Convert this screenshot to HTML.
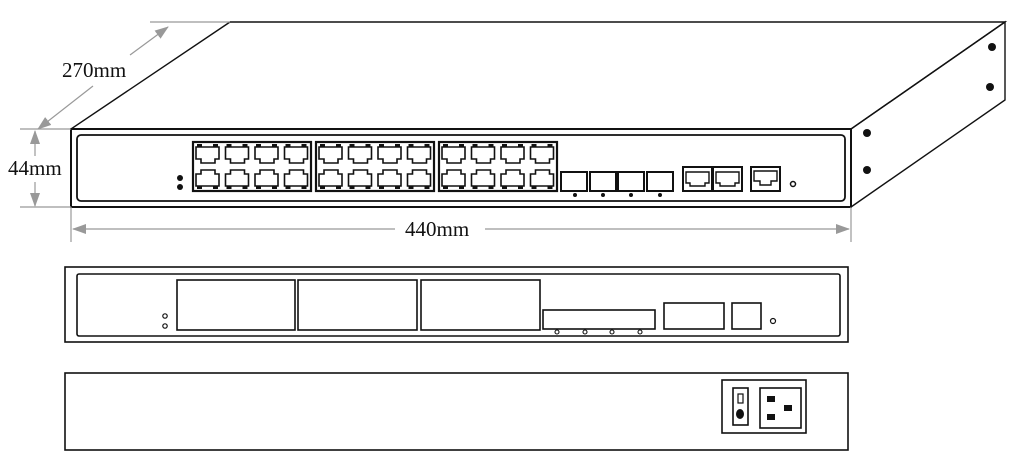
<!DOCTYPE html>
<html><head><meta charset="utf-8"><style>
html,body{margin:0;padding:0;background:#fff;}
svg{display:block;}
text{font-family:"Liberation Serif",serif;font-size:21px;fill:#111;}
</style></head><body>
<svg width="1023" height="471" viewBox="0 0 1023 471" xmlns="http://www.w3.org/2000/svg">
<defs>
<marker id="ar" markerWidth="14" markerHeight="10" refX="13" refY="5" orient="auto" markerUnits="userSpaceOnUse">
<path d="M0,0 L14,5 L0,10 Z" fill="#999"/></marker>
<g id="pt">
<path d="M3,4 H26 V16 H22 V20 H8 V16 H3 Z" fill="none" stroke="#111" stroke-width="1.6"/>
<rect x="4" y="1" width="5" height="3" fill="#111"/><rect x="20" y="1" width="5" height="3" fill="#111"/>
</g>
<g id="pb">
<path d="M3,20 H26 V8 H22 V4 H8 V8 H3 Z" fill="none" stroke="#111" stroke-width="1.6"/>
<rect x="4" y="20" width="5" height="3" fill="#111"/><rect x="20" y="20" width="5" height="3" fill="#111"/>
</g>
<g id="grp">
<rect x="0" y="0" width="118" height="49" fill="none" stroke="#111" stroke-width="2.2"/>
<use href="#pt" x="0" y="1"/><use href="#pt" x="29.5" y="1"/><use href="#pt" x="59" y="1"/><use href="#pt" x="88.5" y="1"/>
<use href="#pb" x="0" y="24"/><use href="#pb" x="29.5" y="24"/><use href="#pb" x="59" y="24"/><use href="#pb" x="88.5" y="24"/>
</g>
</defs>
<g stroke="#111" stroke-width="1.4" fill="none">
<path d="M71,129 L230,22 L1005,22 L851,129"/>
<path d="M851,129 L1005,22 L1005,100 L851,207"/>
<rect x="71" y="129" width="780" height="78" stroke-width="2"/>
<rect x="77" y="135" width="768" height="66" rx="4" stroke-width="1.8"/>
</g>
<g fill="#111">
<circle cx="867" cy="133" r="4"/><circle cx="867" cy="170" r="4"/>
<circle cx="992" cy="47" r="4"/><circle cx="990" cy="87" r="4"/>
<circle cx="180" cy="178" r="3"/><circle cx="180" cy="187" r="3"/>
</g>
<use href="#grp" x="193" y="142"/><use href="#grp" x="316" y="142"/><use href="#grp" x="439" y="142"/>
<g stroke="#111" stroke-width="2" fill="none">
<rect x="561" y="172" width="26" height="19"/><rect x="590" y="172" width="26" height="19"/>
<rect x="618" y="172" width="26" height="19"/><rect x="647" y="172" width="26" height="19"/>
<rect x="683" y="167" width="29" height="24"/><rect x="713" y="167" width="29" height="24"/>
<rect x="751" y="167" width="29" height="24"/>
<path d="M686,172 H709 V183 H705 V186 H690 V183 H686 Z" stroke-width="1.4"/>
<path d="M716,172 H739 V183 H735 V186 H720 V183 H716 Z" stroke-width="1.4"/>
<path d="M754,171 H777 V181 H771 V185 H760 V181 H754 Z" stroke-width="1.4"/>
<circle cx="793" cy="184" r="2.5" stroke-width="1.5"/>
</g>
<g fill="#111"><circle cx="575" cy="195" r="2"/><circle cx="603" cy="195" r="2"/><circle cx="631" cy="195" r="2"/><circle cx="660" cy="195" r="2"/></g>
<g stroke="#999" stroke-width="1.2" fill="none">
<line x1="20" y1="129" x2="71" y2="129"/><line x1="20" y1="207" x2="71" y2="207"/>
<line x1="35" y1="156" x2="35" y2="131" marker-end="url(#ar)"/>
<line x1="35" y1="182" x2="35" y2="206" marker-end="url(#ar)"/>
<line x1="71" y1="207" x2="71" y2="242"/><line x1="851" y1="207" x2="851" y2="242"/>
<line x1="395" y1="229" x2="73" y2="229" marker-end="url(#ar)"/>
<line x1="485" y1="229" x2="849" y2="229" marker-end="url(#ar)"/>
<line x1="150" y1="22" x2="230" y2="22"/>
<line x1="93" y1="86" x2="38" y2="129" marker-end="url(#ar)"/>
<line x1="130" y1="55" x2="168" y2="27" marker-end="url(#ar)"/>
</g>
<text x="62" y="77">270mm</text>
<text x="8" y="175">44mm</text>
<text x="405" y="236">440mm</text>
<g stroke="#111" stroke-width="1.6" fill="none">
<rect x="65" y="267" width="783" height="75"/>
<rect x="77" y="274" width="763" height="62" rx="2"/>
<rect x="177" y="280" width="118" height="50"/><rect x="298" y="280" width="119" height="50"/><rect x="421" y="280" width="119" height="50"/>
<rect x="543" y="310" width="112" height="19"/>
<rect x="664" y="303" width="60" height="26"/><rect x="732" y="303" width="29" height="26"/>
<circle cx="773" cy="321" r="2.5" stroke-width="1.2"/>
<circle cx="165" cy="316" r="2.2" stroke-width="1.2"/><circle cx="165" cy="326" r="2.2" stroke-width="1.2"/>
<circle cx="557" cy="332" r="2" stroke-width="1.1"/><circle cx="585" cy="332" r="2" stroke-width="1.1"/>
<circle cx="612" cy="332" r="2" stroke-width="1.1"/><circle cx="640" cy="332" r="2" stroke-width="1.1"/>
<rect x="65" y="373" width="783" height="77"/>
<rect x="722" y="380" width="84" height="53"/>
<rect x="733" y="388" width="15" height="37"/>
<rect x="760" y="388" width="41" height="40"/>
<rect x="738" y="394" width="5" height="9" stroke-width="1.2"/>
</g>
<g fill="#111">
<ellipse cx="740" cy="414" rx="4" ry="5"/>
<rect x="767" y="396" width="8" height="6"/><rect x="784" y="405" width="8" height="6"/><rect x="767" y="414" width="8" height="6"/>
</g>
</svg>
</body></html>
